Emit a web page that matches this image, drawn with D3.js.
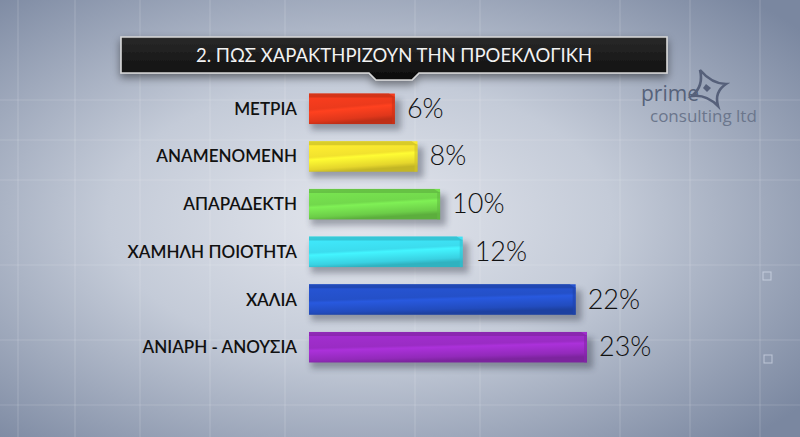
<!DOCTYPE html>
<html><head><meta charset="utf-8">
<script src="https://cdn.jsdelivr.net/npm/d3@7"></script>
<style>html,body{margin:0;padding:0;background:#aab3c3;overflow:hidden}</style>
</head><body><svg id="c" width="800" height="437"></svg>
<script>
const title = "2. ΠΩΣ ΧΑΡΑΚΤΗΡΙΖΟΥΝ ΤΗΝ ΠΡΟΕΚΛΟΓΙΚΗ";
const categories = ["ΜΕΤΡΙΑ","ΑΝΑΜΕΝΟΜΕΝΗ","ΑΠΑΡΑΔΕΚΤΗ","ΧΑΜΗΛΗ ΠΟΙΟΤΗΤΑ","ΧΑΛΙΑ","ΑΝΙΑΡΗ - ΑΝΟΥΣΙΑ"];
const values = [6, 8, 10, 12, 22, 23];
const colors = ["#ec3a1c","#f2e22e","#72d84c","#3cdcee","#2450c8","#9a2cc4"];

const svg = d3.select("#c");
const W = 800, H = 437;
const defs = svg.append("defs");

// background
const bg = defs.append("radialGradient").attr("id","bg").attr("cx","45%").attr("cy","50%").attr("r","70%");
bg.append("stop").attr("offset","0%").attr("stop-color","#e3e6ed");
bg.append("stop").attr("offset","45%").attr("stop-color","#c4cbd8");
bg.append("stop").attr("offset","100%").attr("stop-color","#7a87a0");
svg.append("rect").attr("width",W).attr("height",H).attr("fill","url(#bg)");

// faint grid decoration
const gridV = [18, 75, 140, 210, 285, 415, 480, 620, 690, 760];
const gridH = [100, 140, 180, 265, 340, 405];
svg.append("g").selectAll("line.v").data(gridV).join("line")
  .attr("x1",d=>d).attr("x2",d=>d).attr("y1",0).attr("y2",H)
  .attr("stroke","#ffffff").attr("stroke-opacity",0.18).attr("stroke-width",1);
svg.append("g").selectAll("line.h").data(gridH).join("line")
  .attr("x1",0).attr("x2",W).attr("y1",d=>d).attr("y2",d=>d)
  .attr("stroke","#ffffff").attr("stroke-opacity",0.15).attr("stroke-width",1);
[[764,355],[763,272]].forEach(p=>svg.append("rect").attr("x",p[0]).attr("y",p[1]).attr("width",8).attr("height",8)
  .attr("fill","none").attr("stroke","#dfe6f3").attr("stroke-opacity",0.6));

// title box
const shadowF = defs.append("filter").attr("id","sh").attr("x","-10%").attr("y","-30%").attr("width","120%").attr("height","180%");
shadowF.append("feDropShadow").attr("dx",0).attr("dy",4).attr("stdDeviation",4).attr("flood-color","#000").attr("flood-opacity",0.45);
const tg = defs.append("linearGradient").attr("id","tg").attr("x1",0).attr("x2",0).attr("y1",0).attr("y2",1);
tg.append("stop").attr("offset","0%").attr("stop-color","#2a2a2a");
tg.append("stop").attr("offset","100%").attr("stop-color","#0c0c0c");
const bx0=121, bx1=667, by0=37, by1=73, cx=(bx0+bx1)/2;
svg.append("path")
  .attr("d",`M${bx0},${by0}H${bx1}V${by1}H${cx+25}L${cx+18},${by1+7}H${cx-18}L${cx-25},${by1}H${bx0}Z`)
  .attr("fill","url(#tg)").attr("stroke","#d8d8d8").attr("stroke-width",1.6).attr("filter","url(#sh)");
svg.append("text").attr("x",cx).attr("y",62).attr("text-anchor","middle")
  .attr("font-family","Lato, 'Noto Sans', sans-serif").attr("font-size",18.5).attr("fill","#f2f2f2")
  .text(title);

// logo
const logo = svg.append("g");
logo.append("path").attr("d","M700,70 Q712,84 726,84 Q714,92 718,106 Q706,94 692,96 Q704,86 700,70 Z")
  .attr("fill","none").attr("stroke","#56607a").attr("stroke-width",2.6);
logo.append("path").attr("d","M706,84 L711,88 L707,92 L703,88 Z").attr("fill","#56607a");
logo.append("text").attr("x",641).attr("y",101).attr("font-family","'Open Sans', sans-serif").attr("font-size",21).attr("fill","#56627a").text("prime");
logo.append("text").attr("x",650).attr("y",122).attr("font-family","'Open Sans', sans-serif").attr("font-size",17).attr("fill","#6b768c").text("consulting ltd");

// scales
const y = d3.scaleBand().domain(categories).range([84, 372]).paddingInner(0.36).paddingOuter(0.2);
const x = d3.scaleLinear().domain([-1.6, 23]).range([309, 587]);

categories.forEach((c,i)=>{
  const col = d3.color(colors[i]);
  const g = defs.append("linearGradient").attr("id","bg"+i).attr("x1",0).attr("x2",0.25).attr("y1",0).attr("y2",1);
  g.append("stop").attr("offset","0%").attr("stop-color",col.brighter(0.5));
  g.append("stop").attr("offset","12%").attr("stop-color",col.brighter(0.15));
  g.append("stop").attr("offset","50%").attr("stop-color",col);
  g.append("stop").attr("offset","58%").attr("stop-color",col.brighter(0.3));
  g.append("stop").attr("offset","88%").attr("stop-color",col.darker(0.15));
  g.append("stop").attr("offset","100%").attr("stop-color",col.darker(0.6));
});
const blurF = defs.append("filter").attr("id","bl").attr("x","-10%").attr("y","-50%").attr("width","130%").attr("height","200%");
blurF.append("feGaussianBlur").attr("stdDeviation",3);

const data = categories.map((c,i)=>({c, v: values[i], i}));
const bars = svg.append("g");
bars.selectAll("rect.s").data(data).join("rect")
  .attr("x",x(-1.6)+2).attr("y",d=>y(d.c)+6).attr("width",d=>x(d.v)-x(-1.6)+4).attr("height",y.bandwidth())
  .attr("fill","#1a2030").attr("opacity",0.35).attr("filter","url(#bl)");
bars.selectAll("rect.b").data(data).join("rect")
  .attr("x",x(-1.6)).attr("y",d=>y(d.c)).attr("width",d=>x(d.v)-x(-1.6)).attr("height",y.bandwidth())
  .attr("fill",d=>`url(#bg${d.i})`);
bars.selectAll("path.t").data(data).join("path")
  .attr("d",d=>`M${x(-1.6)},${y(d.c)}H${x(d.v)-6}L${x(d.v)},${y(d.c)+4}H${x(-1.6)}Z`)
  .attr("fill",d=>d3.color(colors[d.i]).darker(0.5)).attr("opacity",0.7);
bars.selectAll("rect.e").data(data).join("rect")
  .attr("x",d=>x(d.v)-3).attr("y",d=>y(d.c)+3).attr("width",3).attr("height",y.bandwidth()-3)
  .attr("fill",d=>d3.color(colors[d.i]).darker(0.4)).attr("opacity",0.6);

// labels
svg.append("g").selectAll("text").data(data).join("text")
  .attr("x",297).attr("y",d=>y(d.c)+y.bandwidth()/2+6).attr("text-anchor","end")
  .attr("font-family","Lato, 'Noto Sans', sans-serif").attr("font-weight",600).attr("font-size",17)
  .attr("fill","#111").text(d=>d.c);

// values
svg.append("g").selectAll("text").data(data).join("text")
  .attr("x",d=>x(d.v)+12).attr("y",d=>y(d.c)+y.bandwidth()/2+9)
  .attr("font-family","Lato, 'Noto Sans', sans-serif").attr("font-weight",300).attr("font-size",27)
  .attr("fill","#111").text(d=>d.v+"%");
</script></body></html>
